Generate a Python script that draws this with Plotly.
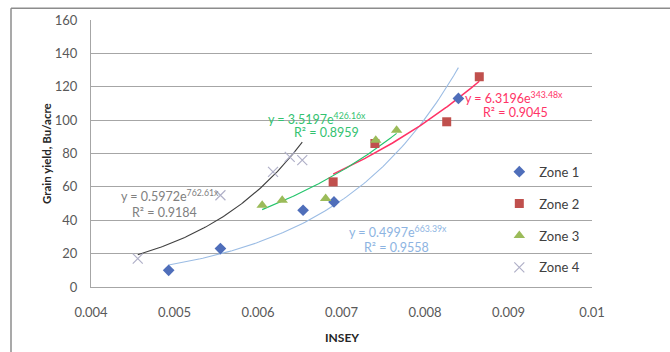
import numpy as np
import plotly.graph_objects as go

# ---- data ----
zone1_x = [0.00493, 0.00555, 0.00654, 0.00691, 0.0084]
zone1_y = [10, 23, 46, 51, 113]
zone2_x = [0.0069, 0.0074, 0.00826, 0.00865]
zone2_y = [63, 86, 99, 126]
zone3_x = [0.00605, 0.00629, 0.00681, 0.00741, 0.00766]
zone3_y = [49, 52, 53, 88, 94]
zone4_x = [0.00456, 0.00555, 0.00618, 0.00638, 0.00653]
zone4_y = [17, 55, 69, 78, 76]

# exponential trendline coefficients shown on the chart (y = a*e^(b x))
zone_names = ["Zone 1", "Zone 2", "Zone 3", "Zone 4"]
trend_a = [0.4997, 6.3196, 3.5197, 0.5972]
trend_b = [663.39, 343.48, 426.16, 762.61]
trend_r2 = [0.9558, 0.9045, 0.8959, 0.9184]

x_ticks = [0.004, 0.005, 0.006, 0.007, 0.008, 0.009, 0.01]
x_tick_text = ["0.004", "0.005", "0.006", "0.007", "0.008", "0.009", "0.01"]
y_ticks = [0, 20, 40, 60, 80, 100, 120, 140, 160]

FONT = "Lato, 'Open Sans', sans-serif"

xs = [zone1_x, zone2_x, zone3_x, zone4_x]
ys = [zone1_y, zone2_y, zone3_y, zone4_y]
marker_styles = [
    dict(symbol="diamond", size=9, color="#4F6EBA"),
    dict(symbol="square", size=9, color="#C0504D"),
    dict(symbol="triangle-up", size=10, color="#9BBB59"),
    dict(symbol="x-thin-open", size=10, color="#B0B0C8", line=dict(width=1.2, color="#B0B0C8")),
]
line_colors = ["#9BBCE4", "#FF3366", "#22C46A", "#404040"]
text_colors = ["#8DB4E2", "#FF3366", "#33C270", "#808080"]

fig = go.Figure()

# trendlines first (behind markers)
for i in range(4):
    xx = np.linspace(min(xs[i]), max(xs[i]), 120)
    yy = trend_a[i] * np.exp(trend_b[i] * xx)
    fig.add_trace(go.Scatter(x=xx, y=yy, mode="lines", showlegend=False,
                             line=dict(color=line_colors[i], width=1.1 if i != 1 else 1.5),
                             hoverinfo="skip"))

for i in range(4):
    fig.add_trace(go.Scatter(x=xs[i], y=ys[i], mode="markers", name=zone_names[i],
                             marker=marker_styles[i], legendgroup=zone_names[i]))

# equation labels: (eq x, eq y, r2 x, r2 y) in data coordinates
label_pos = [
    (0.007677, 33.2, 0.007653, 23.7),
    (0.009066, 113.8, 0.009078, 104.3),
    (0.006707, 100.7, 0.006826, 92.4),
    (0.004946, 55.1, 0.004886, 44.4),
]
ann = []
for i in range(4):
    ex, ey, rx, ry = label_pos[i]
    ann.append(dict(x=ex, y=ey, xref="x", yref="y", showarrow=False,
                    text=f"y = {trend_a[i]:.4f}e<sup>{trend_b[i]:.2f}x</sup>",
                    font=dict(family=FONT, size=12.5, color=text_colors[i])))
    ann.append(dict(x=rx, y=ry, xref="x", yref="y", showarrow=False,
                    text=f"R² = {trend_r2[i]:.4f}",
                    font=dict(family=FONT, size=12.5, color=text_colors[i])))

ann.append(dict(x=0, y=0.5, xref="paper", yref="paper", xshift=-53, showarrow=False,
                text="<b>Grain yield, Bu/acre</b>", textangle=-90,
                font=dict(family=FONT, size=11.5, color="#262626")))
ann.append(dict(x=0.5, y=0, xref="paper", yref="paper", yshift=-60, showarrow=False,
                text="<b>INSEY</b>", font=dict(family=FONT, size=12, color="#262626")))

fig.update_layout(
    width=670, height=352,
    margin=dict(l=91, r=78, t=17, b=65),
    paper_bgcolor="white", plot_bgcolor="white",
    font=dict(family=FONT, size=12, color="#595959"),
    annotations=ann,
    shapes=[
        dict(type="line", xref="paper", yref="paper", x0=-80/501, x1=1.2, y0=1 + 12/270, y1=1 + 12/270,
             line=dict(color="#8C8C8C", width=1.5)),
        dict(type="line", xref="paper", yref="paper", x0=-80/501, x1=-80/501, y0=1 + 12/270, y1=-0.3,
             line=dict(color="#8C8C8C", width=1.5)),
    ],
    legend=dict(x=0.815, y=0.488, xanchor="left", yanchor="top",
                bgcolor="rgba(0,0,0,0)", font=dict(family=FONT, size=13, color="#404040"),
                tracegroupgap=12, itemwidth=30),
    showlegend=True,
)
fig.update_xaxes(range=[0.004, 0.01], tickvals=x_ticks, ticktext=x_tick_text,
                 showgrid=False, zeroline=False, showline=True, linecolor="#A6A6A6",
                 ticks="", ticklabelstandoff=13, tickfont=dict(size=13, color="#595959"))
fig.update_yaxes(range=[0, 160], tickvals=y_ticks, showgrid=True, gridcolor="#A6A6A6",
                 gridwidth=1, zeroline=False, showline=True, linecolor="#A6A6A6",
                 ticks="", ticklabelstandoff=10, tickfont=dict(size=13, color="#595959"))

fig.write_html("out.html")
